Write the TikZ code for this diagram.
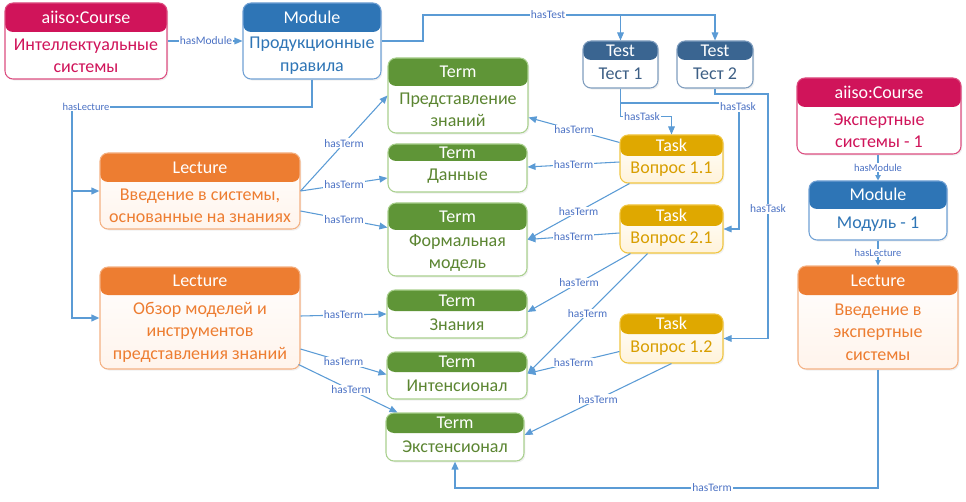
\documentclass[tikz,border=0pt]{standalone}
\usepackage{fontspec}
\setmainfont{Carlito}
\usetikzlibrary{fit,calc,arrows.meta,shadows}

\definecolor{crs}{HTML}{D0145A}
\definecolor{crsb}{HTML}{DC4D80}
\definecolor{mod}{HTML}{2E75B6}
\definecolor{modb}{HTML}{6FA0D4}
\definecolor{tst}{HTML}{3A6591}
\definecolor{tstb}{HTML}{7F9DBE}
\definecolor{tstt}{HTML}{3D5F85}
\definecolor{trm}{HTML}{5F9537}
\definecolor{trmb}{HTML}{A9D08E}
\definecolor{trmt}{HTML}{5B8531}
\definecolor{lec}{HTML}{ED7D31}
\definecolor{lecb}{HTML}{F4B183}
\definecolor{lecf}{HTML}{FFF4EC}
\definecolor{tsk}{HTML}{DFA800}
\definecolor{tskb}{HTML}{F0C540}
\definecolor{tskt}{HTML}{D89E00}
\definecolor{tskf}{HTML}{FFF3DA}
\definecolor{lnk}{HTML}{5B9BD5}
\definecolor{lbltxt}{HTML}{4C72C4}

\newcommand\bodyfont{\fontsize{13.5}{16.8}\selectfont}
\newcommand\lblfont{\fontsize{8.6}{10}\selectfont}
\newcommand\smlfont{\fontsize{7.9}{9}\selectfont}

\tikzset{
  ubox/.style={inner sep=0pt, rounded corners=6pt, line width=0.8pt, fill=white,
    drop shadow={opacity=0.12, shadow xshift=1pt, shadow yshift=-1.2pt}},
  crs box/.style={ubox, draw=crsb}, crs hd/.style={fill=crs}, crs txt/.style={text=crs},
  mod box/.style={ubox, draw=modb}, mod hd/.style={fill=mod}, mod txt/.style={text=mod},
  tst box/.style={ubox, draw=tstb}, tst hd/.style={fill=tst}, tst txt/.style={text=tstt},
  trm box/.style={ubox, draw=trmb}, trm hd/.style={fill=trm}, trm txt/.style={text=trmt},
  lec box/.style={ubox, draw=lecb, top color=white, bottom color=lecf}, lec hd/.style={fill=lec}, lec txt/.style={text=lec},
  tsk box/.style={ubox, draw=tskb, top color=white, bottom color=tskf}, tsk hd/.style={fill=tsk}, tsk txt/.style={text=tskt},
  hdtext/.style={text=white, font=\bodyfont, inner sep=0pt, text height=8.7pt, text depth=0pt},
  bdtext/.style={font=\bodyfont, align=center, inner sep=0pt},
  rel/.style={draw=lnk, line width=0.8pt, -{Triangle[length=6pt,width=5pt]}},
  rel thick/.style={rel, line width=1.3pt},
  rel small/.style={rel, -{Triangle[length=4pt,width=4pt]}},
  lbl/.style={fill=white, text=lbltxt, font=\lblfont, inner sep=0.6pt},
}

\newcommand\ubox[9]{%
  \coordinate (#1-nw) at (#2,#3);
  \coordinate (#1-se) at (#4,#5);
  \coordinate (#1-hs) at (#4,#6);
  \coordinate (#1-hw) at (#2,#6);
  \node[fit=(#1-nw)(#1-se), #7 box, path picture={\fill[#7 hd] (#1-nw) rectangle (#1-hs);}] (#1) {};
  \node[hdtext] (#1-h) at ($(#1-nw)!0.5!(#1-hs)$) {#8};
  \node[bdtext, #7 txt] (#1-b) at ($(#1-hw)!0.5!(#1-se)$) {#9};
}

\begin{document}
\begin{tikzpicture}[x=0.75pt, y=-0.75pt]
\useasboundingbox (0,0) rectangle (966,502);

\ubox{c1}{5}{3}{167}{79}{32}{crs}{aiiso:Course}{Интеллектуальные\\системы}
\ubox{m1}{243}{3}{381}{79}{32}{mod}{Module}{Продукционные\\правила}
\ubox{t1}{583}{41}{658}{88}{60}{tst}{Test}{Тест 1}
\ubox{t2}{677}{41}{753}{88}{60}{tst}{Test}{Тест 2}
\ubox{tp}{388}{58}{528}{133}{86}{trm}{Term}{Представление\\знаний}
\ubox{td}{388}{144}{527}{192}{161}{trm}{Term}{Данные}
\ubox{tf}{388}{203}{527}{276}{230}{trm}{Term}{Формальная\\модель}
\ubox{tz}{387}{290}{527}{338}{311}{trm}{Term}{Знания}
\ubox{ti}{387}{352}{527}{399}{372}{trm}{Term}{Интенсионал}
\ubox{te}{386}{413}{524}{461}{433}{trm}{Term}{Экстенсионал}
\ubox{l1}{100}{153}{300}{229}{182}{lec}{Lecture}{Введение в системы,\\основанные на знаниях}
\ubox{l2}{100}{267}{300}{369}{295}{lec}{Lecture}{Обзор моделей и\\инструментов\\представления знаний}
\ubox{k1}{620}{135}{723}{183}{156}{tsk}{Task}{Вопрос 1.1}
\ubox{k2}{620}{205}{723}{253}{226}{tsk}{Task}{Вопрос 2.1}
\ubox{k3}{620}{314}{723}{363}{334}{tsk}{Task}{Вопрос 1.2}
\ubox{c2}{797}{78}{961}{154}{107}{crs}{aiiso:Course}{Экспертные\\системы - 1}
\ubox{m2}{809}{181}{947}{240}{209}{mod}{Module}{Модуль - 1}
\ubox{l3}{798}{266}{958}{369}{295}{lec}{Lecture}{Введение в\\экспертные\\системы}

% course -> module
\draw[rel] (c1.east) -- (m1.west);
\node[lbl] (lhm) at (206,41) {hasModule};

% module -> tests
\coordinate (ht) at (423,15);
\draw[rel] (m1.east) -| (ht) -| (t1.north);
\draw[rel] (ht) -| (t2.north);
\node[lbl] (lht) at (548,15) {hasTest};

% module -> lectures
\coordinate (hl) at (72,107);
\draw[rel thick] (m1.south) |- (hl) |- (l1.west);
\draw[rel thick] (hl) |- (l2.west);
\node[lbl, font=\smlfont] (lhl) at (86,107) {hasLecture};

% lecture 1 -> terms
\draw[rel] (l1.east) -- (tp.west) node[lbl, midway] {hasTerm};
\draw[rel] (l1.east) -- ($(td.west)+(0,10)$) node[lbl, midway] {hasTerm};
\draw[rel] ($(l1.east)+(0,20)$) -- ($(tf.west)+(0,-12)$) node[lbl, midway] {hasTerm};

% lecture 2 -> terms
\draw[rel] ($(l2.east)+(0,-2)$) -- (tz.west) node[lbl, midway] {hasTerm};
\draw[rel] ($(l2.east)+(0,31)$) -- ($(ti.west)+(0,-1)$) node[lbl, midway] {hasTerm};
\draw[rel] ($(l2.south east)+(-2,-5)$) -- ($(te.north west)+(12,0)$) node[lbl, pos=0.53] {hasTerm};

% tasks -> terms
\draw[rel] ($(k1.north west)+(0,8)$) -- ($(tp.east)+(0,22)$) node[lbl, midway] {hasTerm};
\draw[rel] ($(k1.west)+(0,3)$) -- ($(td.east)+(0,-1)$) node[lbl, midway] {hasTerm};
\draw[rel] ($(k1.south west)+(10,0)$) -- (tf.east) node[lbl, midway] {hasTerm};
\draw[rel] ($(k2.west)+(0,4)$) -- (tf.east) node[lbl, midway] {hasTerm};
\draw[rel] ($(k2.south west)+(11,0)$) -- ($(tz.east)+(0,-2)$) node[lbl, midway] {hasTerm};
\draw[rel] ($(k2.south west)+(28,0)$) -- ($(ti.east)+(0,-2)$) node[lbl, midway] {hasTerm};
\draw[rel] ($(k3.west)+(0,13)$) -- ($(ti.east)+(0,-2)$) node[lbl, midway] {hasTerm};
\draw[rel] (k3.south) -- ($(te.east)+(0,-2)$) node[lbl, midway] {hasTerm};

% tests -> tasks
\draw[rel] (t1.south) |- ($(k1.north)+(0,-18)$) -- (k1.north);
\node[lbl] (lk1) at (642,117) {hasTask};
\coordinate (hk2) at (739,103);
\draw[rel] (t1.south) |- (hk2) |- (k2.east);
\node[lbl] (lk2) at (738,107) {hasTask};
\coordinate (hk3) at (768,94);
\draw[rel] (t2.south) |- (hk3) |- (k3.east);
\node[lbl] (lk3) at (768,209) {hasTask};

% right column
\draw[rel small] (m2.north |- c2.south) -- (m2.north) node[lbl, font=\smlfont, midway] {hasModule};
\draw[rel small] (m2.south) -- (l3.north) node[lbl, font=\smlfont, midway] {hasLecture};
\coordinate (hb) at (878,488);
\draw[rel thick] (l3.south) -- (hb) -| (te.south);
\node[lbl] (lhb) at (712,488) {hasTerm};

\end{tikzpicture}
\end{document}
